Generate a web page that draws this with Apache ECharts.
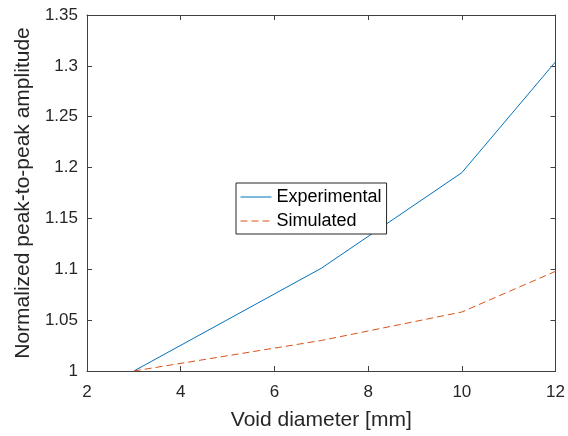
<!DOCTYPE html>
<html>
<head>
<meta charset="utf-8"/>
<title>Normalized peak-to-peak amplitude</title>
<script src="https://cdn.jsdelivr.net/npm/echarts@6/dist/echarts.min.js"></script>
<style>
  html, body { margin: 0; padding: 0; background: #fff; }
  #container { width: 568px; height: 436px; }
</style>
</head>
<body>
<div id="container"></div>
<script type="text/javascript">
    // void diameter [mm] and normalized amplitudes
    var diameters = [3, 7, 10, 12];
    var experimental = [1.0, 1.101, 1.195, 1.304];
    var simulated = [1.0, 1.030, 1.058, 1.098];
    var seriesNames = ['Experimental', 'Simulated'];

    var font = 'Liberation Sans, Arial, sans-serif';
    var axisColor = '#404040';

    function pairs(xs, ys) {
        var out = [];
        for (var i = 0; i < xs.length; i++) {
            out.push([xs[i], ys[i]]);
        }
        return out;
    }

    var myChart = echarts.init(document.getElementById('container'));

    var option = {
        animation: false,
        grid: {
            left: 87,
            top: 15,
            right: 12,
            bottom: 63
        },
        legend: {
            orient: 'vertical',
            left: 236,
            top: 183,
            data: seriesNames,
            borderColor: '#262626',
            borderWidth: 1,
            padding: [5, 5, 4, 4],
            itemWidth: 31,
            itemHeight: 14,
            itemGap: 6,
            backgroundColor: '#fff',
            // hide the marker, keep only the line sample
            itemStyle: { opacity: 0, borderWidth: 0 },
            lineStyle: { width: 1 },
            textStyle: {
                fontFamily: font,
                fontSize: 18,
                color: '#000'
            }
        },
        xAxis: [{
            type: 'value',
            min: 2,
            max: 12,
            interval: 2,
            name: 'Void diameter [mm]',
            nameLocation: 'middle',
            nameGap: 39,
            nameTextStyle: { fontFamily: font, fontSize: 21, color: '#262626' },
            axisLine: { lineStyle: { color: axisColor, width: 1 } },
            axisTick: { inside: true, length: 5, lineStyle: { color: axisColor } },
            axisLabel: { margin: 13, fontFamily: font, fontSize: 17, color: '#262626' },
            splitLine: { show: false }
        }, {
            type: 'value',
            position: 'top',
            min: 2,
            max: 12,
            interval: 2,
            axisLine: { show: true, lineStyle: { color: axisColor, width: 1 } },
            axisTick: { inside: true, length: 5, lineStyle: { color: axisColor } },
            axisLabel: { show: false },
            splitLine: { show: false }
        }],
        yAxis: [{
            type: 'value',
            min: 1,
            max: 1.35,
            interval: 0.05,
            name: 'Normalized peak-to-peak amplitude',
            nameLocation: 'middle',
            nameGap: 51,
            nameTextStyle: { fontFamily: font, fontSize: 21, color: '#262626' },
            axisLine: { show: true, lineStyle: { color: axisColor, width: 1 } },
            axisTick: { show: true, inside: true, length: 5, lineStyle: { color: axisColor } },
            axisLabel: { margin: 9, fontFamily: font, fontSize: 17, color: '#262626' },
            splitLine: { show: false }
        }, {
            type: 'value',
            position: 'right',
            min: 1,
            max: 1.35,
            interval: 0.05,
            axisLine: { show: true, lineStyle: { color: axisColor, width: 1 } },
            axisTick: { show: true, inside: true, length: 5, lineStyle: { color: axisColor } },
            axisLabel: { show: false },
            splitLine: { show: false }
        }],
        series: [{
            name: seriesNames[0],
            type: 'line',
            symbol: 'none',
            data: pairs(diameters, experimental),
            color: '#0072BD',
            lineStyle: { color: '#0072BD', width: 1 }
        }, {
            name: seriesNames[1],
            type: 'line',
            symbol: 'none',
            data: pairs(diameters, simulated),
            color: '#D95319',
            lineStyle: { color: '#D95319', width: 1, type: [7, 4] }
        }]
    };

    myChart.setOption(option);
</script>
</body>
</html>
